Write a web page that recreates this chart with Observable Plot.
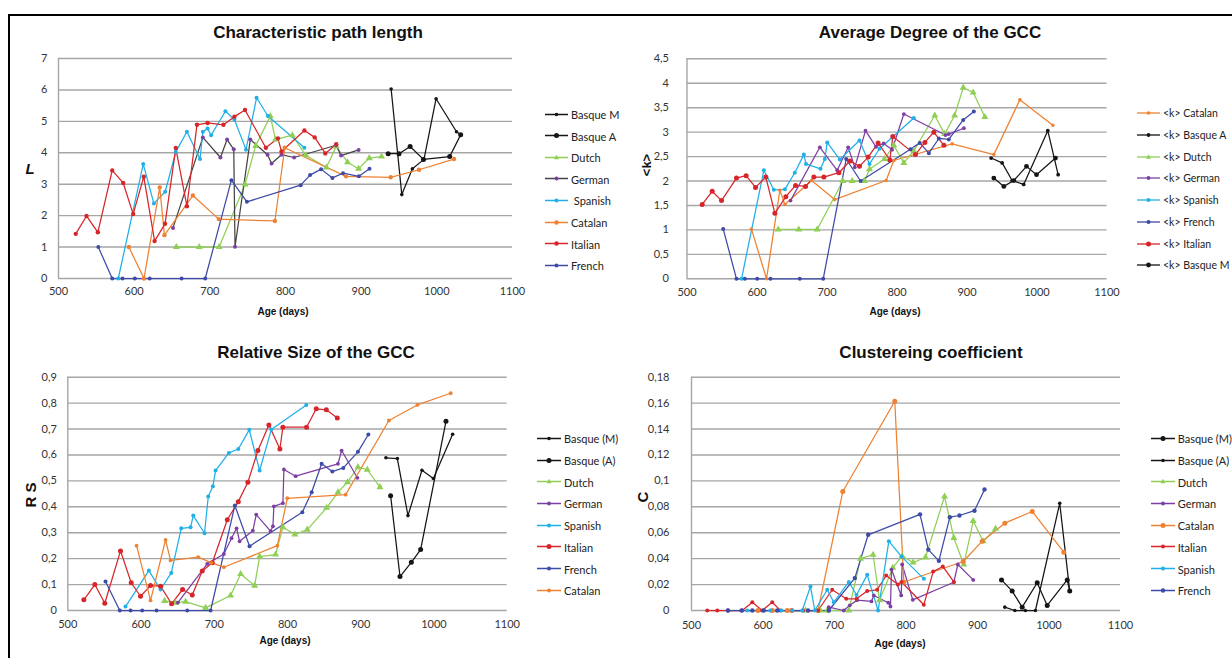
<!DOCTYPE html>
<html><head><meta charset="utf-8">
<script src="https://cdn.jsdelivr.net/npm/d3@7"></script>
<script src="https://cdn.jsdelivr.net/npm/@observablehq/plot@0.6"></script>
<style>
body{margin:0;background:#fff;}
#fig{position:relative;width:1232px;height:658px;overflow:hidden;background:#fff;}
#fig svg.plotsvg{position:absolute;}
.lbl{position:absolute;transform:translate(-50%,-50%);white-space:nowrap;color:#111;font-family:"Liberation Sans",Arial,sans-serif;font-weight:bold;}
.title{font-size:17px;}
.xt{font-size:10px;}
.leg{position:absolute;display:flex;align-items:center;font-family:Lato,"Open Sans",sans-serif;font-size:11px;color:#222;white-space:nowrap;transform:translateY(-50%);}
.leg svg{margin-right:3px;}
#border{position:absolute;left:8px;top:14px;width:1300px;height:700px;border-left:2px solid #000;border-top:2px solid #000;}
</style></head>
<body><div id="fig"></div>
<script>
// ---------- colours ----------
const BLACK="#151515", GREEN="#8fcf55", PURPLE="#7d3fa3", CYAN="#1fb0e8", ORANGE="#ee8232", RED="#d6262b", BLUE="#3d4aa8", DARK="#454545", GRID="#a6a6a6";

// ---------- shared axis ----------
const ageTicks=[500,600,700,800,900,1000,1100];

// ---------- Panel 1: Characteristic path length ----------
const pathTicks=[0,1,2,3,4,5,6,7];
const pathBasqueM=[[939.6,6.03],[953.7,2.67],[967.7,3.49],[983,3.79],[999,5.72],[1026,4.67],[1031.5,4.57]];
const pathBasqueA=[[935.7,3.97],[950,3.97],[964.7,4.2],[982.3,3.79],[1017,3.88],[1031.5,4.57]];
const pathDutch=[[655.7,1.0],[686,1.0],[712.3,1.0],[746.5,2.99],[760.5,4.22],[780,5.16],[786.8,4.42],[809,4.56],[826.8,3.92],[854,3.53],[867,4.2],[882,3.7],[896.6,3.49],[910.7,3.83],[927,3.88]];
const pathGerman=[[651.3,1.61],[690.8,4.49],[714,3.85],[722.8,4.42],[731.6,4.11],[733.3,1.01],[753.5,4.42],[776.3,3.94],[781.6,3.66],[794.7,3.94],[811.4,3.85],[867,4.24],[873.4,3.91],[896.6,4.09]];
const pathSpanish=[[579,0],[612,3.64],[626,2.39],[641,2.76],[655,4.03],[669.7,4.67],[687,3.8],[690.8,4.67],[697,4.77],[701.7,4.56],[720.6,5.32],[732.5,5.06],[747.8,4.1],[761.8,5.75],[776.8,5.17],[825,4.16]];
const pathCatalan=[[593,1.0],[613,0],[633.8,2.9],[640,1.38],[677.6,2.64],[711.8,1.89],[786,1.83],[799,4.16],[880,3.25],[939,3.22],[976.5,3.46],[1022.7,3.8]];
const pathItalian=[[522.8,1.42],[537,1.99],[552,1.47],[571,3.44],[585.5,3.04],[598.7,2.05],[612.7,3.24],[627,1.19],[640.8,1.74],[655,4.15],[669.7,2.3],[683,4.89],[697,4.95],[718,4.89],[732.5,5.15],[746.5,5.36],[774,4.16],[790,4.46],[794.7,4.04],[825,4.71],[838.6,4.49],[852.6,3.98],[867,4.27]];
const pathFrench=[[552.6,1.0],[571,0],[584.6,0],[600.9,0],[620.6,0],[662.7,0],[693.9,0],[728.5,3.13],[749,2.44],[820,2.97],[832.5,3.29],[847,3.48],[862,3.2],[876,3.35],[897,3.25],[911,3.49]];

// ---------- Panel 2: Average degree of the GCC ----------
const degTicks=[0,0.5,1,1.5,2,2.5,3,3.5,4,4.5];
const degCatalan=[[592,1.02],[613.6,0],[632.6,1.81],[639.8,1.52],[678,2.01],[711,1.62],[784.5,2.01],[795.4,2.42],[878.8,2.76],[938.3,2.54],[975.5,3.66],[1022.6,3.14]];
const degBasqueA=[[934.5,2.47],[950.2,2.37],[964.5,2.01],[981,1.93],[1015.4,3.03],[1030.2,2.13]];
const degDutch=[[630.3,1.01],[659.7,1.01],[686,1.01],[722.6,2.0],[736,2.0],[753.6,2.0],[760.7,2.24],[782,2.45],[795.4,2.73],[809.8,2.37],[824,2.62],[854,3.34],[868,2.96],[882.3,3.34],[894.6,3.91],[908.8,3.81],[925.5,3.31]];
const degGerman=[[647.9,1.6],[689.8,2.69],[714.6,2.22],[730.3,2.69],[739.7,2.28],[755,3.03],[770,2.7],[781,2.77],[793,2.64],[809.8,3.37],[869.3,2.94],[874,2.96],[895.5,3.08]];
const degSpanish=[[577.9,0],[609.8,2.22],[624,1.82],[639.8,1.83],[654,2.17],[667,2.54],[670,2.35],[690.7,2.25],[696.9,2.45],[700.3,2.79],[718.3,2.44],[746.4,2.83],[760.7,2.35],[775,2.66],[824,3.29]];
const degFrench=[[551.7,1.02],[570.7,0],[582.6,0],[600.3,0],[619.3,0],[661.1,0],[694.6,0],[727.4,2.45],[748,2.0],[819.3,2.65],[832.6,2.78],[845.5,2.57],[859.8,2.87],[874,2.85],[894.6,3.25],[909.8,3.42]];
const degItalian=[[521.7,1.52],[536,1.79],[549.3,1.6],[570.7,2.06],[584.5,2.11],[597.9,1.87],[612.6,2.08],[625.5,1.34],[641.2,1.68],[655,1.91],[669.3,1.89],[681.2,2.08],[695.5,2.08],[717,2.17],[732.6,2.41],[746.4,2.3],[758.8,2.49],[773,2.78],[789.7,2.43],[794,2.91],[826.4,2.54],[839.8,2.79],[852.6,3.0],[867,2.73]];
const degBasqueM=[[938.3,2.06],[952.6,1.89],[966.9,2.01],[985,2.3],[999.3,2.13],[1026.4,2.47]];

// ---------- Panel 3: Relative size of the GCC ----------
const rsTicks=[0,0.1,0.2,0.3,0.4,0.5,0.6,0.7,0.8,0.9];
const rsBasqueM=[[934.4,0.589],[950,0.586],[964.5,0.366],[983.6,0.541],[999.2,0.509],[1025.5,0.68]];
const rsBasqueA=[[940.8,0.443],[953.6,0.131],[969.1,0.186],[981.8,0.235],[1016.4,0.73]];
const rsDutch=[[632.1,0.037],[647,0.03],[660.8,0.034],[688.1,0.01],[722.3,0.058],[736,0.141],[755.1,0.096],[761.9,0.208],[783.7,0.216],[793.7,0.321],[810.1,0.293],[827,0.312],[853.4,0.396],[868.9,0.456],[882,0.495],[896.2,0.553],[909,0.543],[926.2,0.476]];
const rsGerman=[[650.3,0.03],[690.4,0.18],[713.1,0.218],[723.6,0.279],[730.5,0.317],[734.6,0.267],[752.7,0.308],[757.3,0.37],[776.9,0.306],[780.1,0.325],[781.4,0.402],[793.7,0.414],[795.1,0.544],[811.1,0.518],[868.9,0.566],[873.9,0.617],[895.4,0.512]];
const rsSpanish=[[578.8,0.015],[610.7,0.154],[626.6,0.081],[641.3,0.145],[654.9,0.317],[667.6,0.321],[671.3,0.366],[686.7,0.298],[691.8,0.44],[698.1,0.479],[701.8,0.54],[719.9,0.608],[732.8,0.623],[747.8,0.697],[761.9,0.54],[777.9,0.698],[825.7,0.793]];
const rsItalian=[[521.9,0.041],[536.9,0.1],[550.5,0.028],[572,0.23],[586.6,0.107],[599.3,0.055],[613,0.096],[626.6,0.094],[641.7,0.026],[656.7,0.081],[669.9,0.06],[683.6,0.152],[697.3,0.184],[717.8,0.35],[732.8,0.42],[745.9,0.495],[759.6,0.617],[774.6,0.716],[789.6,0.623],[793.7,0.707],[826,0.707],[839.3,0.778],[853,0.774],[868,0.743]];
const rsFrench=[[551.5,0.112],[571,0],[585.7,0],[601.6,0],[621.2,0],[663.1,0],[695,0],[728.1,0.405],[748.2,0.248],[820.2,0.379],[833,0.456],[846.6,0.566],[861.2,0.536],[876.2,0.55],[896.2,0.612],[910.4,0.679]];
const rsCatalan=[[593.9,0.25],[613,0.039],[633.5,0.272],[640.3,0.193],[678.1,0.206],[696.3,0.184],[713.1,0.167],[786.1,0.25],[799.7,0.433],[879.4,0.447],[938.5,0.733],[977.3,0.793],[1022.8,0.838]];

// ---------- Panel 4: Clustering coefficient ----------
const ccTicks=[0,0.02,0.04,0.06,0.08,0.1,0.12,0.14,0.16,0.18];
const ccBasqueM=[[933.6,0.0236],[948.5,0.015],[962.5,0.0026],[983.5,0.0214],[997.5,0.0039],[1025.5,0.0236],[1029,0.015]];
const ccBasqueA=[[938.2,0.0026],[952.2,0],[967,0],[981,0],[1015,0.0828],[1029,0.015]];
const ccDutch=[[659.4,0],[680.4,0],[689.8,0],[720,0],[736.4,0.04],[754,0.043],[763,0.008],[781.5,0.033],[794.6,0.042],[810,0.037],[827.3,0.041],[853.9,0.088],[866.9,0.056],[880.9,0.0355],[894,0.069],[908,0.0534],[925.2,0.063]];
const ccGerman=[[692,0.0026],[713,0],[721.4,0.004],[731.7,0.008],[751.7,0.007],[755,0.0116],[775.1,0.006],[778.3,0.003],[779.7,0.0316],[793.3,0.0116],[794.6,0.0355],[809.5,0.0082],[866.9,0.0218],[872.5,0.0355],[894,0.0236]];
const ccCatalan=[[593,0],[613,0],[634,0],[640,0],[677,0],[711.6,0.0918],[784.3,0.1614],[796.9,0.022],[880,0.0378],[906.6,0.0535],[938.2,0.0674],[976.5,0.0764],[1020.7,0.045]];
const ccItalian=[[522,0],[536,0],[551,0],[571,0],[585,0.0064],[598.9,0],[612.9,0.0064],[624.5,0],[641,0],[656,0],[677,0],[696.8,0.016],[716.4,0.009],[730.8,0.009],[745.7,0.015],[759.7,0.016],[772.3,0.027],[788.6,0.02],[793.7,0.022],[824.9,0.0044],[838,0.03],[851.5,0.034],[866.9,0.022]];
const ccSpanish=[[578,0],[610,0],[626,0],[641,0],[654.8,0],[666.4,0.0185],[672.5,0],[689.8,0.016],[699,0.0064],[720,0.022],[730.8,0.012],[745.7,0.0275],[761,0],[776,0.0535],[793.7,0.0416],[825,0.0244]];
const ccFrench=[[551,0],[570,0],[585,0],[601,0],[619.9,0],[663,0],[692,0],[728.4,0.025],[747.1,0.0584],[819.6,0.0742],[831.2,0.047],[846,0.0383],[861.3,0.072],[874.8,0.0733],[895.8,0.077],[909.8,0.0933]];

// ---------- helpers ----------
const fmtComma = v => String(+v.toFixed(2)).replace(".", ",");
const fmtPlain = v => String(v);
const S = (name, data, line, mark, r=2, sym="circle") => ({name, data, line, mark, r, sym});

const panels = [
  {
    left:0, top:40, width:530, height:280, ml:58, mr:18, mt:18, mb:42,
    yTicks:pathTicks, yPad:11, xPad:9, fmt:fmtPlain,
    title:"Characteristic path length", tx:318, ty:33, xl:[283,311],
    ylab:{text:"L", x:30, y:168, rot:false, italic:true, size:15},
    leg:{x:545, y0:114, dy:21.6, sw:23, fs:11},
    series:[
      S("Basque M", pathBasqueM, BLACK, BLACK, 1.8),
      S("Basque A", pathBasqueA, BLACK, BLACK, 2.5),
      S("Dutch", pathDutch, GREEN, GREEN, 2.6, "triangle"),
      S("German", pathGerman, DARK, PURPLE, 2),
      S(" Spanish", pathSpanish, CYAN, CYAN, 2),
      S("Catalan", pathCatalan, ORANGE, ORANGE, 2.2),
      S("Italian", pathItalian, RED, RED, 2.2),
      S("French", pathFrench, BLUE, BLUE, 2)
    ]
  },
  {
    left:620, top:40, width:500, height:280, ml:66.5, mr:13.5, mt:18.3, mb:41.7,
    yTicks:degTicks, yPad:18, xPad:9, fmt:fmtComma,
    title:"Average Degree of the GCC", tx:930, ty:33, xl:[895,311],
    ylab:{text:"<k>", x:646, y:165, rot:true, italic:false, size:13},
    leg:{x:1137, y0:113.3, dy:21.7, sw:23, fs:10.5},
    series:[
      S("<k> Catalan", degCatalan, ORANGE, ORANGE, 1.8),
      S("<k> Basque A", degBasqueA, BLACK, BLACK, 1.9),
      S("<k> Dutch", degDutch, GREEN, GREEN, 2.6, "triangle"),
      S("<k> German", degGerman, PURPLE, PURPLE, 1.9),
      S("<k> Spanish", degSpanish, CYAN, CYAN, 2),
      S("<k> French", degFrench, BLUE, BLUE, 2),
      S("<k> Italian", degItalian, RED, RED, 2.5),
      S("<k> Basque M", degBasqueM, BLACK, BLACK, 2.4)
    ]
  },
  {
    left:0, top:360, width:520, height:280, ml:67.3, mr:13.3, mt:16.7, mb:30,
    yTicks:rsTicks, yPad:11, xPad:10, fmt:fmtComma,
    title:"Relative Size of the GCC", tx:316, ty:353, xl:[285,640],
    ylab:{text:"R S", x:30, y:495, rot:true, italic:false, size:15},
    leg:{x:537, y0:438.3, dy:21.7, sw:24, fs:11},
    series:[
      S("Basque (M)", rsBasqueM, BLACK, BLACK, 1.8),
      S("Basque (A)", rsBasqueA, BLACK, BLACK, 2.5),
      S("Dutch", rsDutch, GREEN, GREEN, 2.6, "triangle"),
      S("German", rsGerman, PURPLE, PURPLE, 1.9),
      S("Spanish", rsSpanish, CYAN, CYAN, 2),
      S("Italian", rsItalian, RED, RED, 2.5),
      S("French", rsFrench, BLUE, BLUE, 2),
      S("Catalan", rsCatalan, ORANGE, ORANGE, 1.9)
    ]
  },
  {
    left:620, top:360, width:520, height:285, ml:71, mr:20, mt:16.7, mb:35,
    yTicks:ccTicks, yPad:22, xPad:11, fmt:fmtComma,
    title:"Clustereing coefficient", tx:931, ty:353, xl:[900,643],
    ylab:{text:"C", x:642, y:497, rot:true, italic:false, size:15},
    leg:{x:1150.7, y0:438.3, dy:21.7, sw:24, fs:11},
    series:[
      S("Basque (M)", ccBasqueM, BLACK, BLACK, 2.5),
      S("Basque (A)", ccBasqueA, BLACK, BLACK, 1.8),
      S("Dutch", ccDutch, GREEN, GREEN, 2.6, "triangle"),
      S("German", ccGerman, PURPLE, PURPLE, 1.9),
      S("Catalan", ccCatalan, ORANGE, ORANGE, 2.5),
      S("Italian", ccItalian, RED, RED, 2),
      S("Spanish", ccSpanish, CYAN, CYAN, 2),
      S("French", ccFrench, BLUE, BLUE, 2.2)
    ]
  }
];

const fig = document.getElementById("fig");

for (const p of panels) {
  const marks = [
    Plot.gridY(p.yTicks, {stroke:GRID, strokeOpacity:1, strokeWidth:1.4}),
    Plot.ruleX([ageTicks[0]], {stroke:GRID, strokeOpacity:1, strokeWidth:1.4}),
    Plot.axisX(ageTicks, {tickSize:0, tickPadding:p.xPad, label:null, tickFormat:fmtPlain}),
    Plot.axisY(p.yTicks, {tickSize:0, tickPadding:p.yPad, label:null, tickFormat:p.fmt})
  ];
  for (const s of p.series) {
    marks.push(Plot.line(s.data, {x:d=>d[0], y:d=>d[1], stroke:s.line, strokeWidth:1.25}));
  }
  for (const s of p.series) {
    marks.push(Plot.dot(s.data, {x:d=>d[0], y:d=>d[1], fill:s.mark, r:s.r, symbol:s.sym}));
  }
  const svg = Plot.plot({
    width:p.width, height:p.height,
    marginLeft:p.ml, marginRight:p.mr, marginTop:p.mt, marginBottom:p.mb,
    x:{domain:[ageTicks[0], ageTicks[ageTicks.length-1]]},
    y:{domain:[p.yTicks[0], p.yTicks[p.yTicks.length-1]]},
    style:{fontFamily:"Lato, 'Open Sans', sans-serif", fontSize:"11px", color:"#333", background:"transparent", overflow:"visible"},
    marks
  });
  svg.classList.add("plotsvg");
  svg.style.left = p.left + "px";
  svg.style.top = p.top + "px";
  fig.appendChild(svg);

  // title
  const t = document.createElement("div");
  t.className = "lbl title"; t.textContent = p.title;
  t.style.left = p.tx + "px"; t.style.top = p.ty + "px";
  fig.appendChild(t);
  // x label
  const xl = document.createElement("div");
  xl.className = "lbl xt"; xl.textContent = "Age (days)";
  xl.style.left = p.xl[0] + "px"; xl.style.top = p.xl[1] + "px";
  fig.appendChild(xl);
  // y label
  const yl = document.createElement("div");
  yl.className = "lbl"; yl.textContent = p.ylab.text;
  yl.style.left = p.ylab.x + "px"; yl.style.top = p.ylab.y + "px";
  yl.style.fontSize = p.ylab.size + "px";
  if (p.ylab.italic) yl.style.fontStyle = "italic";
  if (p.ylab.rot) yl.style.transform = "translate(-50%,-50%) rotate(-90deg)";
  fig.appendChild(yl);

  // legend
  p.series.forEach((s, i) => {
    const row = document.createElement("div");
    row.className = "leg";
    row.style.left = p.leg.x + "px";
    row.style.top = (p.leg.y0 + i * p.leg.dy) + "px";
    row.style.fontSize = p.leg.fs + "px";
    const w = p.leg.sw, h = 10, cx = w / 2, cy = h / 2;
    let m;
    if (s.sym === "triangle") {
      const rr = s.r;
      m = `<path d="M${cx},${cy - rr * 1.1}L${cx + rr},${cy + rr * 0.7}L${cx - rr},${cy + rr * 0.7}Z" fill="${s.mark}"/>`;
    } else {
      m = `<circle cx="${cx}" cy="${cy}" r="${s.r}" fill="${s.mark}"/>`;
    }
    row.innerHTML = `<svg width="${w}" height="${h}"><line x1="0" x2="${w}" y1="${cy}" y2="${cy}" stroke="${s.line}" stroke-width="1.3"/>${m}</svg>`;
    const span = document.createElement("span");
    span.textContent = s.name;
    span.style.whiteSpace = "pre";
    row.appendChild(span);
    fig.appendChild(row);
  });
}

const b = document.createElement("div");
b.id = "border";
fig.appendChild(b);
</script>
</body></html>
